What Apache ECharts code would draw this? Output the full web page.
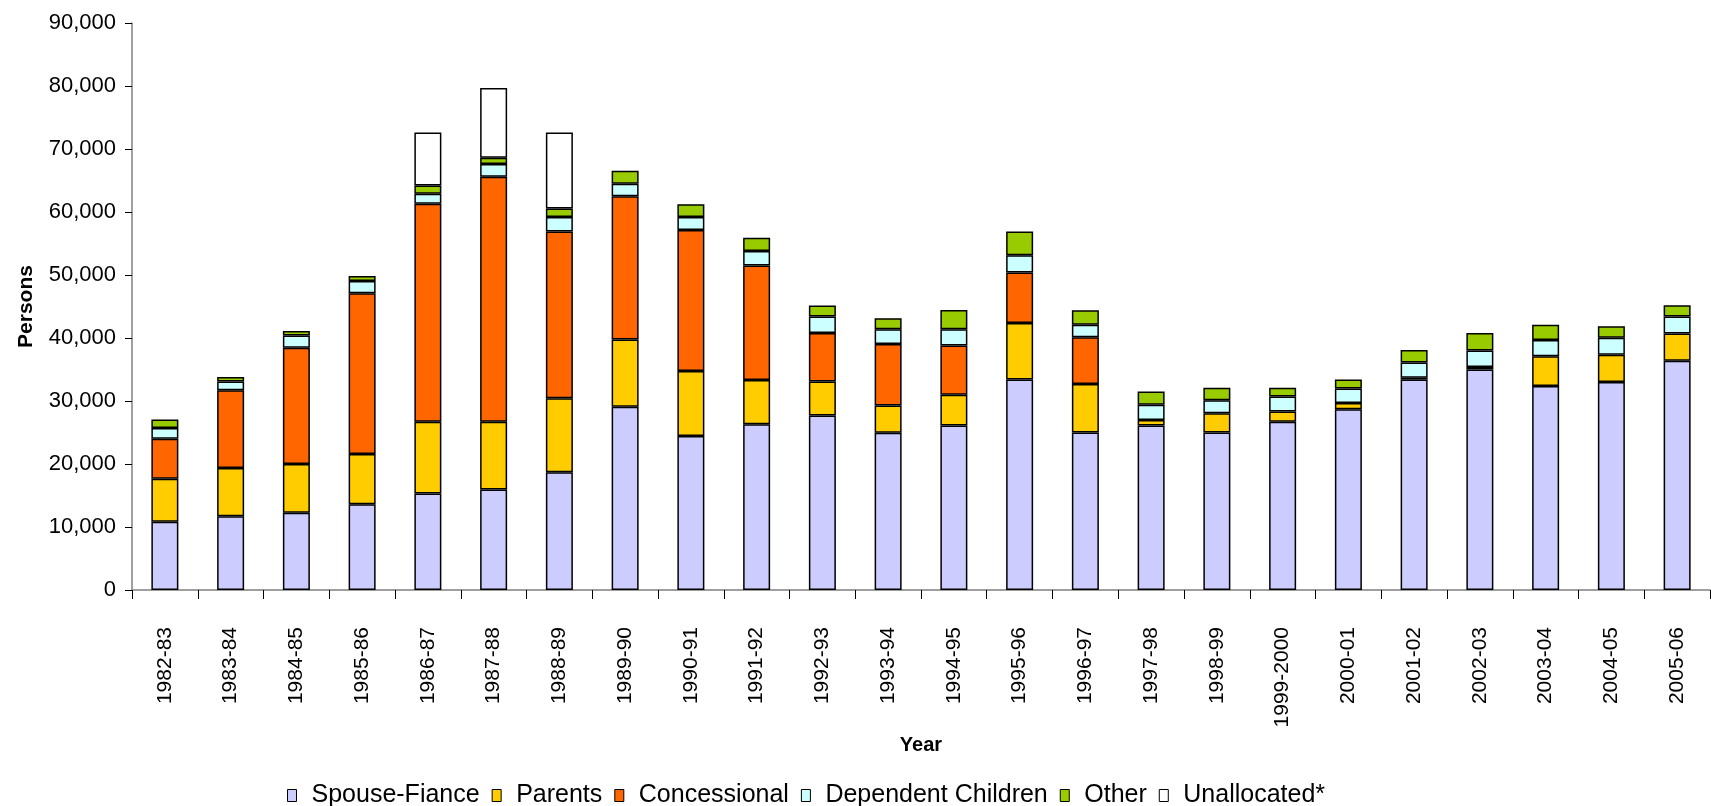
<!DOCTYPE html>
<html>
<head>
<meta charset="utf-8">
<script src="https://cdn.jsdelivr.net/npm/echarts@6/dist/echarts.min.js"></script>
<style>
html,body{margin:0;padding:0;background:#fff;}
#chart{width:1711px;height:806px;}
</style>
</head>
<body>
<div id="chart"></div>
<script>
const categories = ['1982-83','1983-84','1984-85','1985-86','1986-87','1987-88','1988-89','1989-90','1990-91','1991-92','1992-93','1993-94','1994-95','1995-96','1996-97','1997-98','1998-99','1999-2000','2000-01','2001-02','2002-03','2003-04','2004-05','2005-06'];
const spouseFiance = [10850,11700,12250,13600,15300,15950,18700,29100,24450,26300,27700,24950,26100,33400,25000,26100,25000,26700,28700,33400,35000,32400,33000,36400];
const parents = [6800,7650,7750,8000,11400,10750,11750,10650,10300,7050,5400,4350,4900,9000,7700,900,3050,1650,1000,300,400,4700,4350,4300];
const concessional = [6350,12350,18450,25500,34600,38900,26450,22750,22400,18150,7700,9750,7800,8000,7400,null,null,null,null,null,null,null,null,null];
const dependentChildren = [1700,1400,1950,1950,1600,2000,2300,2000,2050,2300,2600,2350,2600,2750,2000,2400,2050,2350,2300,2400,2600,2600,2700,2700];
const other = [1350,700,700,800,1300,1000,1350,2050,2050,2100,1750,1750,3050,3750,2300,2100,2000,1400,1400,2000,2800,2400,1800,1800];
const unallocated = [null,null,null,null,8400,11100,12050,null,null,null,null,null,null,null,null,null,null,null,null,null,null,null,null,null];
const yTicks = [0,10000,20000,30000,40000,50000,60000,70000,80000,90000];

const seriesDefs = [
  ['Spouse-Fiance', spouseFiance, '#CCCCFF'],
  ['Parents', parents, '#FFCC00'],
  ['Concessional', concessional, '#FF6600'],
  ['Dependent Children', dependentChildren, '#CCFFFF'],
  ['Other', other, '#99CC00'],
  ['Unallocated*', unallocated, '#FFFFFF']
];

const font = '"Liberation Sans", Arial, sans-serif';
const chart = echarts.init(document.getElementById('chart'), null, {renderer:'canvas'});
chart.setOption({
  animation: false,
  backgroundColor: '#fff',
  grid: {left: 132, right: 1, top: 23, bottom: 216, containLabel: false},
  legend: {
    left: 282, top: 778,
    itemWidth: 9, itemHeight: 12, itemGap: 12,
    icon: 'rect',
    itemStyle: {borderColor: '#000', borderWidth: 1},
    textStyle: {fontFamily: font, fontSize: 25, color: '#000', padding: [0,0,0,10]},
    data: seriesDefs.map(d => d[0])
  },
  xAxis: {
    type: 'category',
    data: categories,
    name: 'Year',
    nameLocation: 'middle',
    nameGap: 143,
    nameTextStyle: {fontFamily: font, fontSize: 20, fontWeight: 'bold', color: '#000'},
    axisLine: {lineStyle: {color: '#808080', width: 1.5}},
    axisTick: {show: true, alignWithLabel: false, length: 9, lineStyle: {color: '#000'}},
    axisLabel: {rotate: 90, margin: 37, fontFamily: font, fontSize: 21, color: '#000'},
    splitLine: {show: false}
  },
  yAxis: {
    type: 'value',
    min: 0, max: 90000, interval: 10000,
    name: 'Persons',
    nameLocation: 'middle',
    nameGap: 95,
    nameRotate: 90,
    nameTextStyle: {fontFamily: font, fontSize: 21, fontWeight: 'bold', color: '#000'},
    axisLine: {show: true, lineStyle: {color: '#808080', width: 1.5}},
    axisTick: {show: true, length: 7, lineStyle: {color: '#000'}},
    axisLabel: {margin: 16, fontFamily: font, fontSize: 22, color: '#000',
      formatter: v => yTicks.includes(v) ? v.toLocaleString('en-US') : ''},
    splitLine: {show: false}
  },
  series: seriesDefs.map(([name, data, color]) => ({
    name, type: 'bar', stack: 'total', data,
    barWidth: 27,
    itemStyle: {color, borderColor: '#000', borderWidth: 1.5},
    emphasis: {disabled: true}
  }))
});
</script>
</body>
</html>
